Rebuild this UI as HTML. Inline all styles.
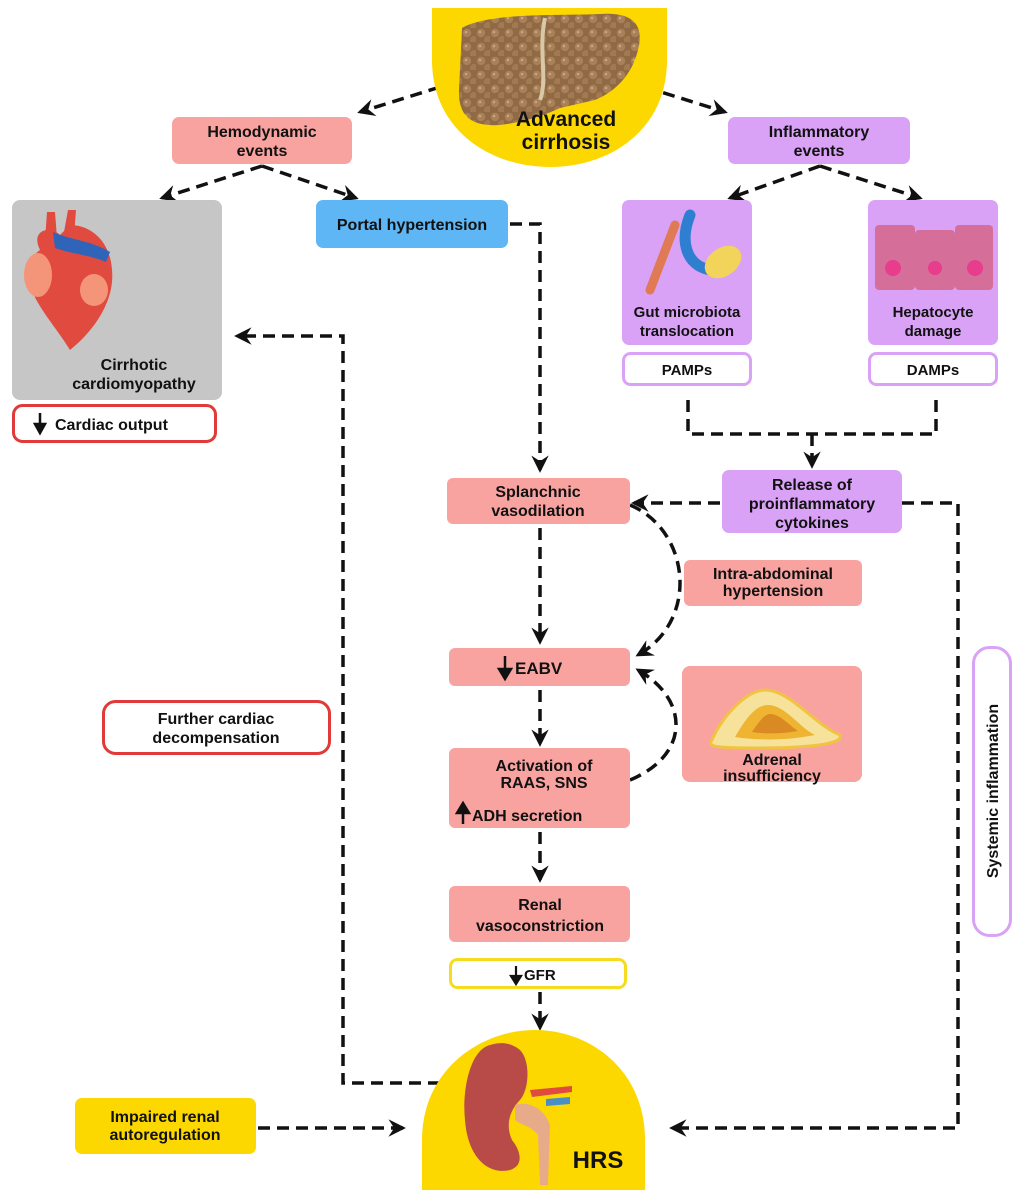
<!DOCTYPE html>
<html><head><meta charset="utf-8"><style>
html,body{margin:0;padding:0;background:#fff;}
svg{display:block;}
text{font-family:"Liberation Sans",sans-serif;font-weight:bold;fill:#111;}
.n{font-family:"Liberation Sans Narrow","Liberation Sans",sans-serif;}
</style></head><body>
<svg width="1021" height="1200" viewBox="0 0 1021 1200" xmlns="http://www.w3.org/2000/svg">
<defs>
<marker id="a" viewBox="0 0 12 12" refX="10" refY="6" markerWidth="5" markerHeight="5" orient="auto" markerUnits="strokeWidth">
<path d="M0,0 L12,6 L0,12 L4,6 z" fill="#111"/></marker>
<pattern id="lv" width="14" height="14" patternUnits="userSpaceOnUse">
<rect width="14" height="14" fill="#8f6a45"/><circle cx="5" cy="5" r="4.2" fill="#a98058"/><circle cx="12" cy="12" r="4" fill="#a27a52"/><circle cx="4" cy="4" r="1.3" fill="#c9a67e"/></pattern>
</defs>
<g fill="none" stroke="#111" stroke-width="3.5" stroke-dasharray="12 7">
<path d="M440,87 L360,112" marker-end="url(#a)"/>
<path d="M645,87 L725,112" marker-end="url(#a)"/>
<path d="M262,166 L162,198" marker-end="url(#a)"/>
<path d="M262,166 L356,198" marker-end="url(#a)"/>
<path d="M820,166 L730,198" marker-end="url(#a)"/>
<path d="M820,166 L920,198" marker-end="url(#a)"/>
<path d="M510,224 L540,224 L540,470" marker-end="url(#a)"/>
<path d="M688,400 L688,434 L936,434 L936,400"/>
<path d="M812,434 L812,466" marker-end="url(#a)"/>
<path d="M720,503 L634,503" marker-end="url(#a)"/>
<path d="M902,503 L958,503 L958,1128 L672,1128" marker-end="url(#a)"/>
<path d="M540,528 L540,642" marker-end="url(#a)"/>
<path d="M540,690 L540,744" marker-end="url(#a)"/>
<path d="M540,832 L540,880" marker-end="url(#a)"/>
<path d="M540,992 L540,1028" marker-end="url(#a)"/>
<path d="M630,505 C690,530 700,620 638,655" marker-end="url(#a)"/>
<path d="M630,780 C690,755 690,700 638,670" marker-end="url(#a)"/>
<path d="M440,1083 L343,1083 L343,336 L237,336" marker-end="url(#a)"/>
<path d="M258,1128 L403,1128" marker-end="url(#a)"/>
</g>
<!-- top dome -->
<path d="M432,8 L667,8 L667,60 C667,130 610,167 550,167 C490,167 432,130 432,60 Z" fill="#fcd800"/>
<path d="M462,28 C490,12 560,16 600,14 C630,12 645,22 638,50 C632,75 615,92 595,100 L560,108 C545,115 525,122 500,125 C470,127 458,115 459,90 Z" fill="url(#lv)"/>
<path d="M545,18 C538,50 548,80 540,100" stroke="#d8c8a8" stroke-width="4" fill="none"/>
<text x="566" y="126" text-anchor="middle" font-size="21" class="n">Advanced</text>
<text x="566" y="149" text-anchor="middle" font-size="21" class="n">cirrhosis</text>
<!-- boxes -->
<rect x="172" y="117" width="180" height="47" rx="7" fill="#f9a3a0"/>
<text x="262" y="137" text-anchor="middle" font-size="16" class="n">Hemodynamic</text>
<text x="262" y="156" text-anchor="middle" font-size="16" class="n">events</text>
<rect x="728" y="117" width="182" height="47" rx="7" fill="#d9a2f7"/>
<text x="819" y="137" text-anchor="middle" font-size="16" class="n">Inflammatory</text>
<text x="819" y="156" text-anchor="middle" font-size="16" class="n">events</text>
<!-- heart box -->
<rect x="12" y="200" width="210" height="200" rx="8" fill="#c6c6c6"/>
<path d="M40,250 C30,230 50,225 60,235 L70,225 C90,225 110,240 112,270 C115,300 95,330 70,350 C55,325 30,300 28,275 C27,262 33,255 40,250 Z" fill="#e14a3f"/>
<path d="M45,240 L47,212 L55,212 L57,238 Z M64,232 L68,210 L76,210 L74,236 Z" fill="#e14a3f"/>
<path d="M53,232 C70,240 90,240 110,252 L106,262 C90,255 72,254 55,248 Z" fill="#2f64b8"/>
<ellipse cx="38" cy="275" rx="14" ry="22" fill="#f4957a"/>
<ellipse cx="94" cy="290" rx="14" ry="16" fill="#f4957a"/>
<text x="134" y="370" text-anchor="middle" font-size="16" class="n">Cirrhotic</text>
<text x="134" y="389" text-anchor="middle" font-size="16" class="n">cardiomyopathy</text>
<rect x="13.5" y="405.5" width="202" height="36" rx="9" fill="#fff" stroke="#e03a3a" stroke-width="3"/>
<path d="M40,413 L40,426 M35,424 L40,433 L45,424 Z" stroke="#111" stroke-width="2.5" fill="#111"/>
<text x="55" y="430" font-size="16" class="n">Cardiac output</text>
<rect x="316" y="200" width="192" height="48" rx="7" fill="#5eb6f5"/>
<text x="412" y="230" text-anchor="middle" font-size="16" class="n">Portal hypertension</text>
<!-- gut -->
<rect x="622" y="200" width="130" height="145" rx="7" fill="#d9a2f7"/>
<path d="M650,290 L675,225" stroke="#e07a55" stroke-width="9" stroke-linecap="round"/>
<path d="M690,215 C680,240 685,265 710,270" stroke="#2f7fd0" stroke-width="11" fill="none" stroke-linecap="round"/>
<ellipse cx="723" cy="262" rx="20" ry="14" fill="#f2d45a" transform="rotate(-35 723 262)"/>
<text x="687" y="317" text-anchor="middle" font-size="15" class="n">Gut microbiota</text>
<text x="687" y="336" text-anchor="middle" font-size="15" class="n">translocation</text>
<rect x="623.5" y="353.5" width="127" height="31" rx="7" fill="#fff" stroke="#d9a2f7" stroke-width="3"/>
<text x="687" y="375" text-anchor="middle" font-size="15" class="n">PAMPs</text>
<!-- hepato -->
<rect x="868" y="200" width="130" height="145" rx="7" fill="#d9a2f7"/>
<rect x="875" y="225" width="40" height="65" rx="4" fill="#d56f99"/>
<rect x="915" y="230" width="40" height="60" rx="4" fill="#d56f99"/>
<rect x="955" y="225" width="38" height="65" rx="4" fill="#d56f99"/>
<circle cx="893" cy="268" r="8" fill="#e83c8c"/><circle cx="935" cy="268" r="7" fill="#e83c8c"/><circle cx="975" cy="268" r="8" fill="#e83c8c"/>
<text x="933" y="317" text-anchor="middle" font-size="15" class="n">Hepatocyte</text>
<text x="933" y="336" text-anchor="middle" font-size="15" class="n">damage</text>
<rect x="869.5" y="353.5" width="127" height="31" rx="7" fill="#fff" stroke="#d9a2f7" stroke-width="3"/>
<text x="933" y="375" text-anchor="middle" font-size="15" class="n">DAMPs</text>
<!-- release -->
<rect x="722" y="470" width="180" height="63" rx="7" fill="#d9a2f7"/>
<text x="812" y="490" text-anchor="middle" font-size="16">Release of</text>
<text x="812" y="509" text-anchor="middle" font-size="16">proinflammatory</text>
<text x="812" y="528" text-anchor="middle" font-size="16">cytokines</text>
<rect x="447" y="478" width="183" height="46" rx="6" fill="#f9a3a0"/>
<text x="538" y="497" text-anchor="middle" font-size="16">Splanchnic</text>
<text x="538" y="516" text-anchor="middle" font-size="16">vasodilation</text>
<rect x="684" y="560" width="178" height="46" rx="6" fill="#f9a3a0"/>
<text x="773" y="579" text-anchor="middle" font-size="16">Intra-abdominal</text>
<text x="773" y="596" text-anchor="middle" font-size="16">hypertension</text>
<rect x="449" y="648" width="181" height="38" rx="6" fill="#f9a3a0"/>
<path d="M505,656 L505,672 M499,669 L505,679 L511,669 Z" stroke="#111" stroke-width="2.5" fill="#111"/>
<text x="515" y="674" font-size="17">EABV</text>
<rect x="682" y="666" width="180" height="116" rx="8" fill="#f9a3a0"/>
<path d="M712,740 C720,720 745,690 765,690 C790,690 815,725 840,735 C845,745 800,748 760,748 C725,748 705,748 712,740 Z" fill="#f6e29a" stroke="#f0c440" stroke-width="3"/>
<path d="M735,737 C745,720 755,705 768,705 C785,705 800,728 815,735 C790,740 760,741 735,737 Z" fill="#f0b433"/>
<path d="M752,732 C760,720 765,714 770,714 C780,714 790,726 798,731 C780,734 765,734 752,732 Z" fill="#d98a22"/>
<text x="772" y="765" text-anchor="middle" font-size="16">Adrenal</text>
<text x="772" y="781" text-anchor="middle" font-size="16">insufficiency</text>
<rect x="449" y="748" width="181" height="80" rx="6" fill="#f9a3a0"/>
<text x="544" y="771" text-anchor="middle" font-size="16">Activation of</text>
<text x="544" y="788" text-anchor="middle" font-size="16">RAAS, SNS</text>
<path d="M463,824 L463,810 M457,813 L463,803 L469,813 Z" stroke="#111" stroke-width="2.5" fill="#111"/>
<text x="472" y="821" font-size="16">ADH secretion</text>
<rect x="449" y="886" width="181" height="56" rx="6" fill="#f9a3a0"/>
<text x="540" y="910" text-anchor="middle" font-size="16">Renal</text>
<text x="540" y="931" text-anchor="middle" font-size="16">vasoconstriction</text>
<rect x="450.5" y="959.5" width="175" height="28" rx="7" fill="#fff" stroke="#f5dc1e" stroke-width="3"/>
<path d="M516,966 L516,978 M511,976 L516,984 L521,976 Z" stroke="#111" stroke-width="2.2" fill="#111"/>
<text x="524" y="980" font-size="15" class="n">GFR</text>
<!-- systemic -->
<rect x="973.5" y="647.5" width="37" height="288" rx="16" fill="#fff" stroke="#d9a2f7" stroke-width="3"/>
<text transform="translate(998,791) rotate(-90)" text-anchor="middle" font-size="16">Systemic inflammation</text>
<rect x="103.5" y="701.5" width="226" height="52" rx="12" fill="#fff" stroke="#e03a3a" stroke-width="3"/>
<text x="216" y="724" text-anchor="middle" font-size="16">Further cardiac</text>
<text x="216" y="743" text-anchor="middle" font-size="16">decompensation</text>
<rect x="75" y="1098" width="181" height="56" rx="7" fill="#fcd800"/>
<text x="165" y="1122" text-anchor="middle" font-size="16">Impaired renal</text>
<text x="165" y="1140" text-anchor="middle" font-size="16">autoregulation</text>
<!-- HRS dome -->
<path d="M422,1190 L422,1140 C422,1070 480,1030 535,1030 C590,1030 645,1070 645,1140 L645,1190 Z" fill="#fcd800"/>
<path d="M490,1045 C470,1050 462,1090 465,1120 C468,1160 490,1175 510,1170 C525,1165 520,1150 512,1140 C505,1125 510,1110 520,1100 C530,1088 530,1060 520,1050 C510,1042 500,1042 490,1045 Z" fill="#b84a48"/>
<path d="M515,1105 C530,1100 545,1110 550,1125 L548,1185 L540,1185 L538,1135 C530,1125 520,1125 515,1120 Z" fill="#e8ab8a"/>
<path d="M530,1090 L572,1086 L572,1092 L532,1097 Z" fill="#e14a3f"/>
<path d="M546,1099 L570,1097 L570,1104 L546,1106 Z" fill="#4a8ec8"/>
<text x="598" y="1168" text-anchor="middle" font-size="24" class="n">HRS</text>
</svg>
</body></html>
